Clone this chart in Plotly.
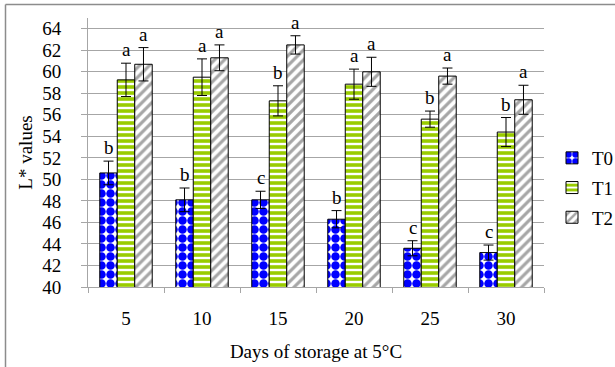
import plotly.graph_objects as go

days = ["5", "10", "15", "20", "25", "30"]
t0_vals = [50.6, 48.1, 48.1, 46.3, 43.6, 43.2]
t0_err = [1.1, 1.1, 0.8, 0.8, 0.7, 0.7]
t1_vals = [59.25, 59.5, 57.3, 58.85, 55.6, 54.4]
t1_err = [1.55, 1.7, 1.4, 1.4, 0.75, 1.35]
t2_vals = [60.7, 61.3, 62.5, 60.0, 59.6, 57.4]
t2_err = [1.55, 1.2, 0.85, 1.35, 0.75, 1.35]
t0_letters = ["b", "b", "c", "b", "c", "c"]
t1_letters = ["a", "a", "b", "a", "b", "b"]
t2_letters = ["a", "a", "a", "a", "a", "a"]
series_names = ["T0", "T1", "T2"]

FONT = "Liberation Serif, Times New Roman, serif"
GRID = "#a6a6a6"
W, H = 615, 367
ML, MR, MT, MB = 88, 71, 18, 80
BARGAP = 0.31

patterns = [
    dict(shape=".", fgcolor="#0000ff", bgcolor="white", size=9, solidity=0.7, fillmode="replace"),
    dict(shape="-", fgcolor="#99cc00", bgcolor="white", size=6, solidity=0.6, fillmode="replace"),
    dict(shape="/", fgcolor="#a6a6a6", bgcolor="white", size=7, solidity=0.45, fillmode="replace"),
]

fig = go.Figure()
data = [(t0_vals, t0_err, t0_letters), (t1_vals, t1_err, t1_letters), (t2_vals, t2_err, t2_letters)]
for i, (vals, errs, letters) in enumerate(data):
    fig.add_trace(go.Bar(
        name=series_names[i], x=days, y=vals, legendgroup=series_names[i],
        marker=dict(color="white", pattern=patterns[i], line=dict(color="black", width=1)),
        error_y=dict(type="data", array=errs, visible=True, color="black", thickness=1, width=5),
    ))

plot_w = W - ML - MR
band = plot_w / len(days)
bar_w = band * (1 - BARGAP) / 3
for i, (vals, errs, letters) in enumerate(data):
    for j, (v, e, l) in enumerate(zip(vals, errs, letters)):
        fig.add_annotation(x=j, y=v + e, text=l, showarrow=False, yanchor="bottom",
                           xshift=(i - 1) * bar_w, yshift=1,
                           font=dict(family=FONT, size=19, color="black"))

# chart frame (top and left edges)
plot_h = H - MT - MB
def px_x(p):
    return (p - ML) / plot_w
def px_y(p):
    return (H - MB - p) / plot_h
fig.add_shape(type="line", xref="paper", yref="paper", x0=px_x(5.5), x1=px_x(620), y0=px_y(4.5), y1=px_y(4.5),
              line=dict(color="#8c8c8c", width=1.5))
fig.add_shape(type="line", xref="paper", yref="paper", x0=px_x(5.5), x1=px_x(5.5), y0=px_y(4.5), y1=px_y(372),
              line=dict(color="#8c8c8c", width=1.5))

tickfont = dict(family=FONT, size=19, color="black")
fig.update_layout(
    width=W, height=H, margin=dict(l=ML, r=MR, t=MT, b=MB, autoexpand=False),
    paper_bgcolor="white", plot_bgcolor="white",
    barmode="group", bargap=BARGAP, bargroupgap=0,
    font=dict(family=FONT, size=19, color="black"),
    showlegend=True,
    legend=dict(x=px_x(552), y=px_y(139), xanchor="left", yanchor="top",
                font=dict(family=FONT, size=19, color="black"), tracegroupgap=2,
                bgcolor="rgba(0,0,0,0)", itemwidth=30),
    xaxis=dict(type="category", range=[-0.5, len(days) - 0.5], autorange=False,
               showgrid=False, showline=True, linecolor=GRID, linewidth=1,
               ticks="outside", tickson="boundaries", ticklen=5, tickcolor=GRID,
               ticklabelstandoff=14, tickangle=0, tickfont=tickfont,
               title=dict(text="Days of storage at 5°C", font=dict(family=FONT, size=19), standoff=16)),
    yaxis=dict(range=[40, 65], autorange=False, tick0=40, dtick=2, showgrid=True, gridcolor=GRID, gridwidth=1,
               showline=True, linecolor=GRID, linewidth=1, ticks="outside", ticklen=6, tickcolor=GRID,
               ticklabelstandoff=16, zeroline=False, tickfont=tickfont,
               title=dict(text="L* values", font=dict(family=FONT, size=19), standoff=4)),
)

fig.write_html("out.html")
